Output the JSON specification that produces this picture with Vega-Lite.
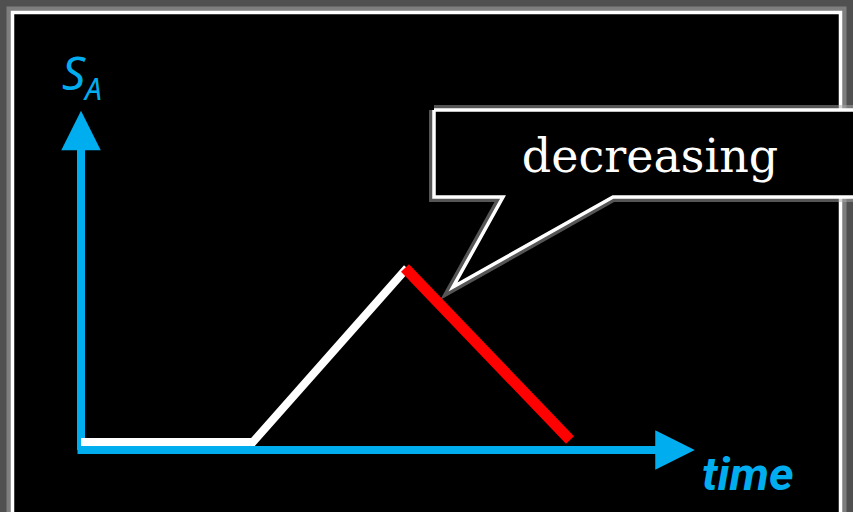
{
  "$schema": "https://vega.github.io/schema/vega-lite/v6.json",
  "width": 853,
  "height": 512,
  "autosize": {"type": "fit", "contains": "padding"},
  "padding": 0,
  "background": "#505050",
  "config": {"view": {"stroke": null}},
  "encoding": {
    "x": {"field": "x", "type": "quantitative", "scale": {"domain": [0, 853], "nice": false, "zero": false}, "axis": null},
    "y": {"field": "y", "type": "quantitative", "scale": {"domain": [0, 512], "nice": false, "zero": false, "reverse": true}, "axis": null}
  },
  "layer": [
    {
      "data": {"values": [{"x": 12.5, "y": 12.5, "x2": 840.5, "y2": 560}]},
      "mark": {"type": "rect", "fill": null, "stroke": "#8a8a8a", "strokeWidth": 12, "strokeOpacity": 0.8, "clip": true},
      "encoding": {"x2": {"field": "x2"}, "y2": {"field": "y2"}}
    },
    {
      "data": {"values": [{"x": 12.5, "y": 12.5, "x2": 840.5, "y2": 560}]},
      "mark": {"type": "rect", "fill": "#000000", "stroke": "#ffffff", "strokeWidth": 3.5, "clip": true},
      "encoding": {"x2": {"field": "x2"}, "y2": {"field": "y2"}}
    },
    {
      "data": {"values": [
        {"o": 1, "x": 434, "y": 110},
        {"o": 2, "x": 880, "y": 110},
        {"o": 3, "x": 880, "y": 197},
        {"o": 4, "x": 613, "y": 197},
        {"o": 5, "x": 453, "y": 287},
        {"o": 6, "x": 503, "y": 197},
        {"o": 7, "x": 434, "y": 197},
        {"o": 8, "x": 434, "y": 110}
      ]},
      "mark": {"type": "line", "stroke": "#aaaaaa", "strokeWidth": 10, "strokeOpacity": 0.5, "strokeJoin": "miter", "clip": true},
      "encoding": {"order": {"field": "o", "type": "quantitative"}}
    },
    {
      "data": {"values": [
        {"o": 1, "x": 434, "y": 110},
        {"o": 2, "x": 880, "y": 110},
        {"o": 3, "x": 880, "y": 197},
        {"o": 4, "x": 613, "y": 197},
        {"o": 5, "x": 453, "y": 287},
        {"o": 6, "x": 503, "y": 197},
        {"o": 7, "x": 434, "y": 197},
        {"o": 8, "x": 434, "y": 110}
      ]},
      "mark": {"type": "line", "stroke": "#ffffff", "fill": "#000000", "strokeWidth": 3.5, "strokeJoin": "miter", "clip": true},
      "encoding": {"order": {"field": "o", "type": "quantitative"}}
    },
    {
      "data": {"values": [
        {"x": 81, "y": 450, "x2": 81, "y2": 145},
        {"x": 77.5, "y": 450, "x2": 665, "y2": 450}
      ]},
      "mark": {"type": "rule", "color": "#00AEEF", "strokeWidth": 8, "strokeCap": "butt"},
      "encoding": {"x2": {"field": "x2"}, "y2": {"field": "y2"}}
    },
    {
      "data": {"values": [{"x": 81, "y": 130.5}]},
      "mark": {"type": "point", "shape": "M-1,1L1,1L0,-1Z", "size": 1560, "filled": true, "color": "#00AEEF", "opacity": 1, "strokeWidth": 0}
    },
    {
      "data": {"values": [{"x": 675, "y": 450}]},
      "mark": {"type": "point", "shape": "M-1,-1L1,0L-1,1Z", "size": 1560, "filled": true, "color": "#00AEEF", "opacity": 1, "strokeWidth": 0}
    },
    {
      "data": {"values": [
        {"x": 81, "y": 442},
        {"x": 253, "y": 442},
        {"x": 407, "y": 268}
      ]},
      "mark": {"type": "line", "color": "#ffffff", "strokeWidth": 8, "strokeJoin": "miter", "strokeCap": "butt"}
    },
    {
      "data": {"values": [
        {"x": 405, "y": 268},
        {"x": 570, "y": 440}
      ]},
      "mark": {"type": "line", "color": "#ff0000", "strokeWidth": 11, "strokeCap": "butt"}
    },
    {
      "data": {"values": [{"x": 62, "y": 90, "t": "S"}]},
      "mark": {"type": "text", "font": "Noto Sans", "fontStyle": "italic", "fontSize": 46, "align": "left", "baseline": "alphabetic", "color": "#00AEEF"},
      "encoding": {"text": {"field": "t"}}
    },
    {
      "data": {"values": [{"x": 85, "y": 100, "t": "A"}]},
      "mark": {"type": "text", "font": "Noto Sans", "fontStyle": "italic", "fontSize": 30, "align": "left", "baseline": "alphabetic", "color": "#00AEEF"},
      "encoding": {"text": {"field": "t"}}
    },
    {
      "data": {"values": [{"x": 702, "y": 490, "t": "time"}]},
      "mark": {"type": "text", "font": "Roboto", "fontStyle": "italic", "fontWeight": "bold", "fontSize": 47, "align": "left", "baseline": "alphabetic", "color": "#00AEEF"},
      "encoding": {"text": {"field": "t"}}
    },
    {
      "data": {"values": [{"x": 650, "y": 172, "t": "decreasing"}]},
      "mark": {"type": "text", "font": "DejaVu Serif", "fontSize": 46, "align": "center", "baseline": "alphabetic", "color": "#ffffff"},
      "encoding": {"text": {"field": "t"}}
    }
  ]
}
